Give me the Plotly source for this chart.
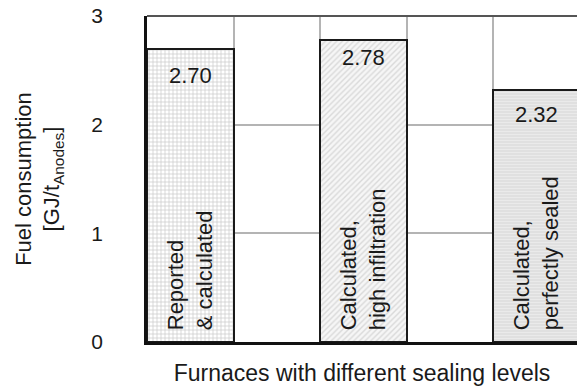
import plotly.graph_objects as go

positions = [0.5, 2.5, 4.5]
values = [2.70, 2.78, 2.32]
value_labels = ["2.70", "2.78", "2.32"]
bar_labels = ["Reported<br>& calculated", "Calculated,<br>high infiltration", "Calculated,<br>perfectly sealed"]
y_ticks = [0, 1, 2, 3]

FONT = "Liberation Sans, Arial, sans-serif"
FS = 22

patterns = [
    dict(shape="+", fgcolor="#8e8e8e", bgcolor="#ffffff", size=4, solidity=0.3),
    dict(shape="/", fgcolor="#bcbcbc", bgcolor="#f6f6f6", size=4, solidity=0.35),
    dict(shape="-", fgcolor="#f6f6f6", bgcolor="#dedede", size=3, solidity=0.4),
]
label_shift = [-12, -3, -10]

fig = go.Figure()
for p, v, pat in zip(positions, values, patterns):
    fig.add_trace(go.Bar(
        x=[p], y=[v], width=1,
        marker=dict(color=pat["bgcolor"], line=dict(color="#1a1a1a", width=2), pattern=pat),
        showlegend=False, hoverinfo="skip",
    ))

for p, v, t, s in zip(positions, values, value_labels, label_shift):
    fig.add_annotation(x=p, y=v, text=t, showarrow=False, yanchor="top", yshift=s,
                       font=dict(family=FONT, size=FS, color="#1a1a1a"))

for p, t in zip(positions, bar_labels):
    fig.add_annotation(x=p, y=0.0, text=t, showarrow=False, textangle=-90, align="left",
                       xanchor="center", yanchor="bottom", yshift=10,
                       font=dict(family=FONT, size=FS, color="#1a1a1a"))

fig.update_layout(
    width=577, height=392,
    margin=dict(l=147, r=0, t=16, b=50),
    plot_bgcolor="white", paper_bgcolor="white",
    bargap=0,
    font=dict(family=FONT, size=FS, color="#1a1a1a"),
)
fig.update_xaxes(range=[0, 4.97], tickmode="array", tickvals=[1, 2, 3, 4], showticklabels=False,
                 showgrid=True, gridcolor="#b4b4b4", gridwidth=1.5, ticks="",
                 showline=True, linecolor="#111111", linewidth=2.5, mirror=False, zeroline=False,
                 automargin=False,
                 title=dict(text="Furnaces with different sealing levels", standoff=22,
                            font=dict(family=FONT, size=23)))
fig.update_yaxes(range=[0, 3], tickmode="array", tickvals=y_ticks, ticks="",
                 showgrid=True, gridcolor="#b4b4b4", gridwidth=1.5, zeroline=False,
                 showline=True, linecolor="#111111", linewidth=2.5, automargin=False,
                 ticklabelstandoff=37, ticklabeloverflow="allow", tickfont=dict(family=FONT, size=21),
                 title=dict(text="Fuel consumption<br>[GJ/t<sub>Anodes</sub>]", standoff=26,
                            font=dict(family=FONT, size=FS)))
# top border
fig.add_shape(type="line", xref="paper", yref="paper", x0=0, x1=1, y0=1, y1=1,
              line=dict(color="#555555", width=2))

fig.write_html("out.html", config={"displayModeBar": False},
               post_script="document.body.style.margin='0';document.body.style.overflow='hidden';")
